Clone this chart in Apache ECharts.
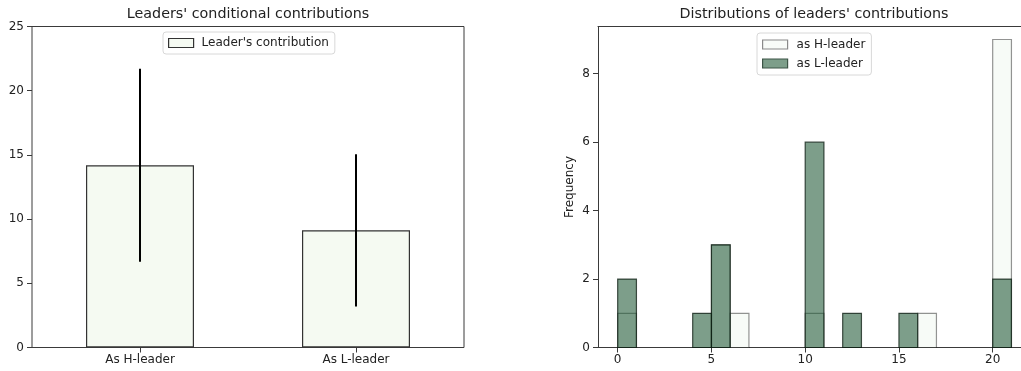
<!DOCTYPE html>
<html>
<head>
<meta charset="utf-8">
<script src="https://cdn.jsdelivr.net/npm/echarts@6/dist/echarts.min.js"></script>
<style>
  html, body { margin: 0; padding: 0; background: #ffffff; }
  #chart { width: 1021px; height: 371px; }
</style>
</head>
<body>
<div id="chart"></div>
<script>
// Leaders' mean contribution with standard deviation
const categories = ['As H-leader', 'As L-leader'];
const meanContribution = [14.19, 9.13];
const sdContribution = [7.51, 5.93];

// Histogram bins (width 1) and frequencies per leader role
const binStarts = [0, 1, 2, 3, 4, 5, 6, 7, 8, 9, 10, 11, 12, 13, 14, 15, 16, 17, 18, 19, 20];
const hLeaderCounts = [1, 0, 0, 0, 0, 3, 1, 0, 0, 0, 1, 0, 0, 0, 0, 0, 1, 0, 0, 0, 9];
const lLeaderCounts = [2, 0, 0, 0, 1, 3, 0, 0, 0, 0, 6, 0, 1, 0, 0, 1, 0, 0, 0, 0, 2];

const leftTicks = [0, 5, 10, 15, 20, 25];
const histXTicks = [0, 5, 10, 15, 20];
const histYTicks = [0, 2, 4, 6, 8];

const FONT = 'DejaVu Sans';
const INK = '#222222';
const SPINE = '#3a3a3a';

const binData = counts => binStarts
  .map((b, i) => [b, b + 1, counts[i]])
  .filter(d => d[2] > 0);

const errorData = categories.map((c, i) => [i, meanContribution[i] - sdContribution[i], meanContribution[i] + sdContribution[i]]);

const hFill = 'rgba(240,248,240,0.55)';
const hEdge = 'rgba(0,0,0,0.42)';
const lFill = 'rgba(38,93,60,0.6)';
const lEdge = 'rgba(10,25,15,0.75)';

function histRect(fill, edge) {
  return function (params, api) {
    const p0 = api.coord([api.value(0), api.value(2)]);
    const p1 = api.coord([api.value(1), 0]);
    return {
      type: 'rect',
      shape: { x: p0[0], y: p0[1], width: p1[0] - p0[0], height: p1[1] - p0[1] },
      style: { fill: fill, stroke: edge, lineWidth: 1.2 }
    };
  };
}

const axisLabelStyle = { color: INK, fontFamily: FONT, fontSize: 12 };
const spineLine = { show: true, onZero: false, lineStyle: { color: SPINE, width: 1 } };

const chart = echarts.init(document.getElementById('chart'), null, { renderer: 'canvas' });

chart.setOption({
  backgroundColor: '#ffffff',
  animation: false,
  graphic: [
    { type: 'text', x: 248, y: 14, style: { text: "Leaders' conditional contributions", font: '14.3px "DejaVu Sans"', fill: INK, textAlign: 'center', textVerticalAlign: 'middle' } },
    { type: 'text', x: 814, y: 14, style: { text: "Distributions of leaders' contributions", font: '14.3px "DejaVu Sans"', fill: INK, textAlign: 'center', textVerticalAlign: 'middle' } }
  ],
  legend: [
    {
      orient: 'horizontal',
      left: 163, top: 32,
      padding: [5, 6, 5, 5],
      backgroundColor: '#ffffff',
      borderColor: '#d8d8d8', borderWidth: 1, borderRadius: 3,
      itemWidth: 25, itemHeight: 9,
      textStyle: { color: INK, fontFamily: FONT, fontSize: 12, padding: [0, 0, 0, 3] },
      selectedMode: false,
      data: [{ name: "Leader's contribution", icon: 'rect', itemStyle: { color: '#f5faf2', borderColor: '#333333', borderWidth: 1.2 } }]
    },
    {
      orient: 'vertical',
      left: 757, top: 33,
      padding: [4, 6, 4, 5],
      itemGap: 4,
      backgroundColor: '#ffffff',
      borderColor: '#d8d8d8', borderWidth: 1, borderRadius: 3,
      itemWidth: 25, itemHeight: 9,
      textStyle: { color: INK, fontFamily: FONT, fontSize: 12, padding: [0, 0, 0, 4], lineHeight: 15 },
      selectedMode: false,
      data: [
        { name: 'as H-leader', icon: 'rect', itemStyle: { color: '#f8fbf8', borderColor: '#8a8a8a', borderWidth: 1.2 } },
        { name: 'as L-leader', icon: 'rect', itemStyle: { color: '#7d9e8a', borderColor: '#3c5446', borderWidth: 1.2 } }
      ]
    }
  ],
  grid: [
    { left: 32, top: 26.5, width: 432, height: 321, show: true, borderColor: SPINE, borderWidth: 1, backgroundColor: 'transparent', containLabel: false },
    { left: 598, top: 26.5, width: 423, height: 321, show: false, containLabel: false }
  ],
  xAxis: [
    {
      gridIndex: 0, type: 'category', data: categories, boundaryGap: true,
      axisLine: { show: false },
      axisTick: { show: true, alignWithLabel: true, length: 5, lineStyle: { color: SPINE } },
      axisLabel: Object.assign({ margin: 6 }, axisLabelStyle),
      splitLine: { show: false }
    },
    {
      gridIndex: 1, type: 'value', min: -1.05, max: 21.51, position: 'bottom',
      axisLine: spineLine,
      axisTick: { show: true, length: 5, customValues: histXTicks, lineStyle: { color: SPINE } },
      axisLabel: Object.assign({ margin: 6, customValues: histXTicks }, axisLabelStyle),
      splitLine: { show: false }
    },
    {
      // top frame edge of the histogram panel
      gridIndex: 1, type: 'value', min: -1.05, max: 21.51, position: 'top',
      axisLine: spineLine,
      axisTick: { show: false },
      axisLabel: { show: false },
      splitLine: { show: false }
    }
  ],
  yAxis: [
    {
      gridIndex: 0, type: 'value', min: 0, max: 25, interval: 5,
      axisLine: { show: false },
      axisTick: { show: true, length: 5, customValues: leftTicks, lineStyle: { color: SPINE } },
      axisLabel: Object.assign({ margin: 8, customValues: leftTicks }, axisLabelStyle),
      splitLine: { show: false }
    },
    {
      gridIndex: 1, type: 'value', min: 0, max: 9.38, position: 'left',
      name: 'Frequency', nameLocation: 'middle', nameGap: 22, nameRotate: 90,
      nameTextStyle: { color: INK, fontFamily: FONT, fontSize: 12 },
      axisLine: spineLine,
      axisTick: { show: true, length: 5, customValues: histYTicks, lineStyle: { color: SPINE } },
      axisLabel: Object.assign({ margin: 8, customValues: histYTicks }, axisLabelStyle),
      splitLine: { show: false }
    }
  ],
  series: [
    {
      name: "Leader's contribution", type: 'bar', xAxisIndex: 0, yAxisIndex: 0,
      data: meanContribution, barWidth: '50%',
      itemStyle: { color: '#f5faf2', borderColor: '#333333', borderWidth: 1.2 },
      z: 2
    },
    {
      name: 'error', type: 'custom', xAxisIndex: 0, yAxisIndex: 0,
      data: errorData, z: 3, silent: true,
      renderItem: function (params, api) {
        const lo = api.coord([api.value(0), api.value(1)]);
        const hi = api.coord([api.value(0), api.value(2)]);
        return { type: 'line', shape: { x1: lo[0], y1: lo[1], x2: hi[0], y2: hi[1] }, style: { stroke: '#000000', lineWidth: 2 } };
      }
    },
    {
      name: 'as H-leader', type: 'custom', xAxisIndex: 1, yAxisIndex: 1,
      data: binData(hLeaderCounts), encode: { x: [0, 1], y: 2 },
      renderItem: histRect(hFill, hEdge), z: 2
    },
    {
      name: 'as L-leader', type: 'custom', xAxisIndex: 1, yAxisIndex: 1,
      data: binData(lLeaderCounts), encode: { x: [0, 1], y: 2 },
      renderItem: histRect(lFill, lEdge), z: 3
    }
  ]
});
</script>
</body>
</html>
